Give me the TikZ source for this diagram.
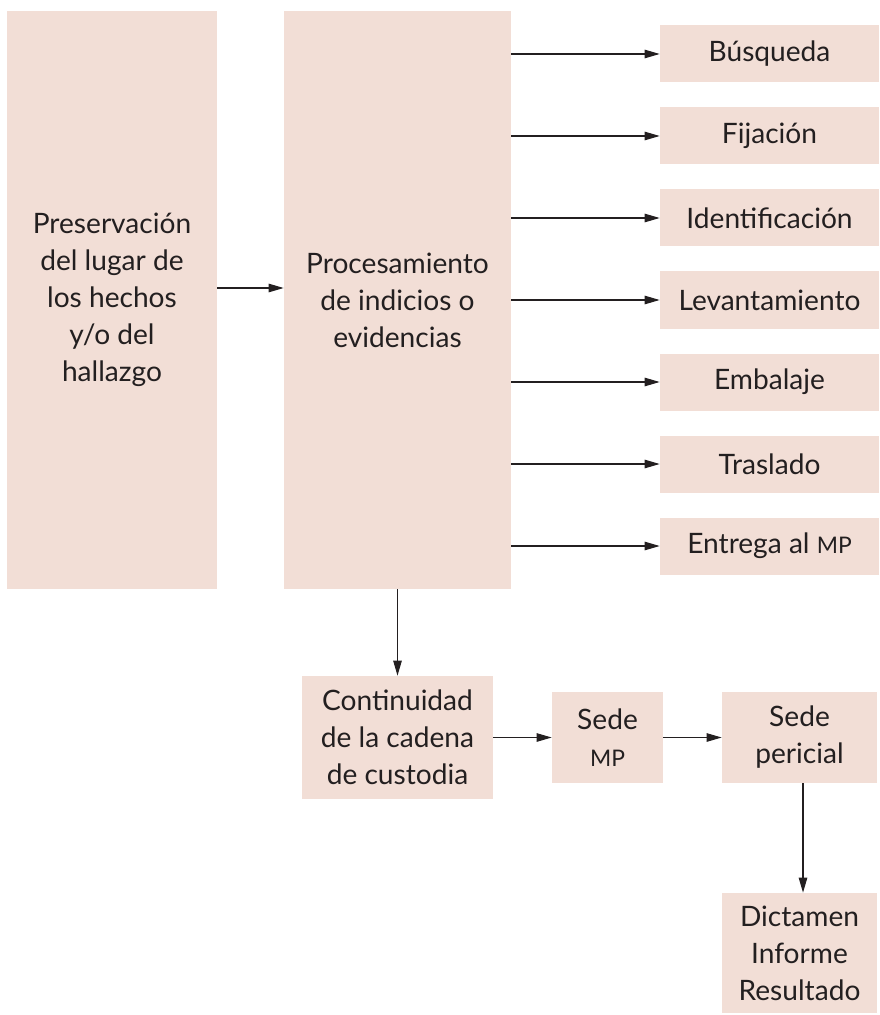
\documentclass[tikz,border=0pt]{standalone}
\usepackage{fontspec}
\setmainfont{Lato}
\usepackage{tikz}
\usetikzlibrary{positioning,arrows.meta}
\definecolor{myrose}{RGB}{242,222,214}
\definecolor{myink}{RGB}{35,31,32}
\newcommand\MPsc{{\fontsize{13}{15}\selectfont MP}}
\tikzset{
		boxStyle/.style = 	{fill=myrose, text=myink, align=center, inner sep=0pt, font=\fontsize{16}{21}\selectfont},
		tallBox/.style = 	{boxStyle, minimum height=11.56cm},
		stepBox/.style=	{boxStyle, minimum width=4.38cm, minimum height=1.14cm},
		edgeStyle/.style = 	{draw=myink, line width=0.6pt, -{Triangle[length=0.3cm,width=0.17cm]}},
		node distance=2.3cm
}

\begin{document}
\begin{tikzpicture}
  \useasboundingbox (0,0) rectangle (17.58,-20.3);

  % Two tall boxes on the left
  \node [tallBox, minimum width=4.2cm]  (pres) at (2.24,-6.0) {Preservación\\del lugar de\\los hechos\\y/o del\\hallazgo};
  \node [tallBox, minimum width=4.54cm] (proc) at (7.95,-6.0) {Procesamiento\\de indicios o\\evidencias};

  % Steps of the processing
  \foreach \lbl [count=\i] in {Búsqueda, Fijación, Identificación, Levantamiento, Embalaje, Traslado, Entrega al \MPsc}
    {\node [stepBox] (paso\i) at (15.39,{-1.08-1.64*(\i-1)}) {\lbl};
     \draw [edgeStyle] (proc.east |- paso\i.west) -- (paso\i.west);}

  % Chain of custody
  \node [boxStyle, minimum width=3.82cm, minimum height=2.46cm] (cont) at (7.95,-14.75) {Continuidad\\de la cadena\\de custodia};
  \node [boxStyle, minimum width=2.22cm, minimum height=1.82cm] (sedeMP) at (12.15,-14.75) {Sede\\\MPsc};
  \node [boxStyle, minimum width=3.1cm, minimum height=1.82cm] (sedePer) at (15.99,-14.75) {Sede\\pericial};
  \node [boxStyle, minimum width=3.1cm, minimum height=2.4cm] (dict) at (15.99,-19.06) {Dictamen\\Informe\\Resultado};

  \draw [edgeStyle] ([yshift=0.24cm]pres.east) -- ([yshift=0.24cm]proc.west);
  \draw [edgeStyle] (proc.south) -- (cont.north);
  \draw [edgeStyle] (cont.east) -- (sedeMP.west);
  \draw [edgeStyle] (sedeMP.east) -- (sedePer.west);
  \draw [edgeStyle] ([xshift=0.07cm]sedePer.south) -- ([xshift=0.07cm]dict.north);

\end{tikzpicture}
\end{document}
